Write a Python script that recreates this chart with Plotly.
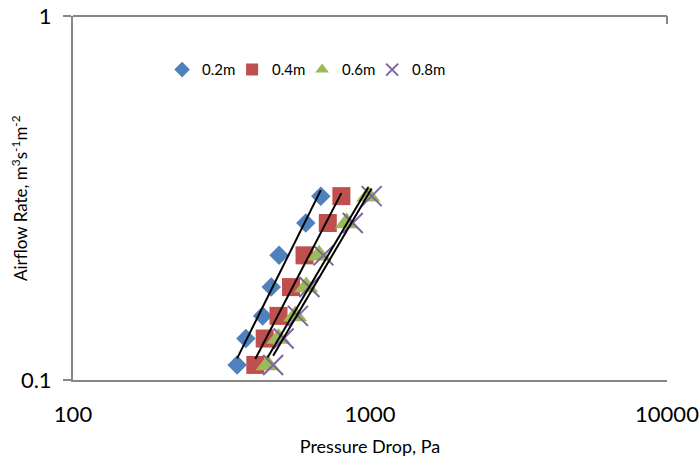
import numpy as np
import plotly.graph_objects as go

airflow = [0.11, 0.13, 0.15, 0.18, 0.22, 0.27, 0.32]
p_02 = [357, 382, 435, 465, 494, 608, 683]
p_04 = [411, 442, 492, 542, 602, 721, 801]
p_06 = [452, 492, 560, 610, 674, 835, 987]
p_08 = [472, 512, 572, 625, 697, 875, 1013]

series = [
    ("0.2m", p_02, "diamond", "#4F81BD", 15),
    ("0.4m", p_04, "square", "#C0504D", 18),
    ("0.6m", p_06, "triangle-up", "#9BBB59", 21),
    ("0.8m", p_08, "x-thin", "#8064A2", 20),
]

FONT = "Lato, 'Open Sans', sans-serif"
GRAY = "#868686"
fig = go.Figure()
for name, xs, sym, col, sz in series:
    fig.add_trace(go.Scatter(
        x=xs, y=airflow, mode="markers", name=name,
        marker=dict(symbol=sym, color=col, size=sz,
                    line=dict(color=col, width=2 if sym == "x-thin" else 0)),
    ))

# power-law trendlines (least squares in log-log space)
for name, xs, sym, col, sz in series:
    lx = np.log(np.array(xs, dtype=float))
    ly = np.log(np.array(airflow, dtype=float))
    b, a = np.polyfit(lx, ly, 1)
    xx = np.array([min(xs), max(xs)], dtype=float)
    yy = np.exp(a) * xx ** b
    fig.add_trace(go.Scatter(x=xx, y=yy, mode="lines", showlegend=False,
                             line=dict(color="black", width=2), hoverinfo="skip"))

# empty legend spacer so the last legend label is not clipped
fig.add_trace(go.Scatter(x=[None], y=[None], name=" ", mode="markers",
                         marker=dict(color="rgba(0,0,0,0)", size=1,
                                     line=dict(width=0, color="rgba(0,0,0,0)")),
                         hoverinfo="skip", showlegend=True))

fig.update_layout(
    width=699, height=457,
    margin=dict(l=73, r=32, t=16, b=77, autoexpand=False),
    paper_bgcolor="white", plot_bgcolor="white",
    font=dict(family=FONT, color="black"),
    legend=dict(orientation="h", x=0.15, y=0.852, xanchor="left", yanchor="middle",
                font=dict(size=15, family=FONT), bgcolor="rgba(0,0,0,0)",
                itemsizing="constant", entrywidth=25, entrywidthmode="pixels",
                tracegroupgap=0, itemwidth=30, itemclick=False, itemdoubleclick=False),
    xaxis=dict(type="log", range=[2, 4], showgrid=False, zeroline=False, automargin=False,
               showline=True, linecolor=GRAY, linewidth=2,
               tickvals=[100, 1000, 10000], ticktext=["100", "1000", "10000"],
               ticklabeloverflow="allow",
               ticks="", tickfont=dict(size=22, family=FONT), ticklabelstandoff=14,
               title=dict(text="Pressure Drop, Pa", font=dict(size=18, family=FONT), standoff=18)),
    yaxis=dict(type="log", range=[-1, 0], showgrid=True, gridcolor=GRAY, gridwidth=2,
               zeroline=False, showline=True, linecolor=GRAY, linewidth=2, automargin=False,
               tickvals=[0.1, 1], ticktext=["0.1", "1"], ticklabeloverflow="allow",
               ticks="outside", ticklen=8, tickcolor=GRAY, tickwidth=2,
               tickfont=dict(size=22, family=FONT), ticklabelstandoff=7),
    annotations=[dict(text="Airflow Rate, m<sup>3</sup>s<sup>-1</sup>m<sup>-2</sup>",
                      textangle=-90, xref="paper", yref="paper", x=-0.091, y=0.5,
                      xanchor="center", yanchor="middle", showarrow=False,
                      font=dict(size=17, family=FONT))],
)
# top border (value 1) and the small corner tick at the right
fig.add_shape(type="line", xref="paper", yref="paper", x0=0, x1=1, y0=1, y1=1,
              line=dict(color=GRAY, width=2))
fig.add_shape(type="line", xref="paper", yref="paper", x0=1, x1=1, y0=1, y1=0.978,
              line=dict(color=GRAY, width=2))

fig.write_html("out.html", config={"displayModeBar": False},
               post_script="document.body.style.margin='0';"
               "document.body.style.overflow='hidden';")
